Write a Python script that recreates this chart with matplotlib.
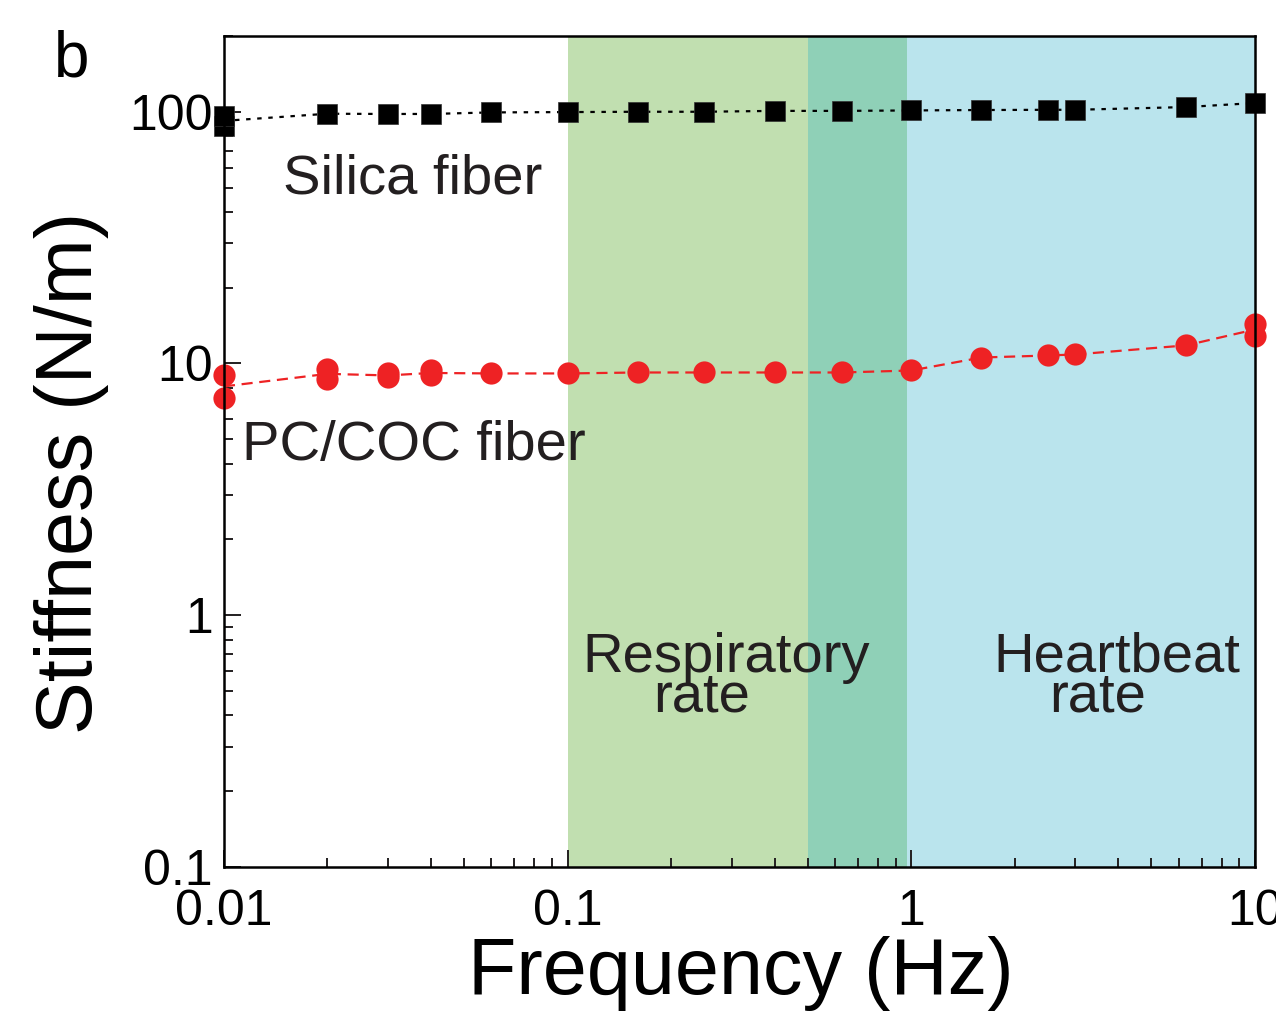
import numpy as np
import matplotlib
matplotlib.use('Agg')
import matplotlib.pyplot as plt

plt.rcParams['font.family'] = ['Liberation Sans', 'DejaVu Sans']

# frequencies (Hz) and stiffness (N/m)
freq_silica = [0.01, 0.01, 0.02, 0.03, 0.04, 0.06, 0.1, 0.16, 0.25, 0.4, 0.63, 1.0, 1.6, 2.5, 3.0, 6.3, 10.0]
k_silica = [88, 96, 98.2, 98, 98, 99.4, 99.7, 100, 100, 100.8, 100.8, 101.2, 101.6, 101.8, 101.8, 104.4, 108.3]

freq_pc = [0.01, 0.01, 0.02, 0.02, 0.03, 0.03, 0.04, 0.04, 0.06, 0.1, 0.16, 0.25, 0.4, 0.63, 1.0, 1.6, 2.5, 3.0, 6.3, 10.0, 10.0]
k_pc = [8.96, 7.26, 9.55, 8.64, 9.13, 8.8, 9.38, 8.96, 9.13, 9.13, 9.21, 9.21, 9.21, 9.21, 9.38, 10.56, 10.76, 10.86, 11.8, 14.4, 12.9]

resp_band = (0.1, 0.97)
heart_band = (0.5, 10.0)

xticks = [0.01, 0.1, 1, 10]
xlabels = ['0.01', '0.1', '1', '10']
yticks = [0.1, 1, 10, 100]
ylabels = ['0.1', '1', '10', '100']


def mean_line(x, y):
    ux = np.unique(x)
    x = np.array(x)
    y = np.array(y)
    return ux, np.array([y[x == u].mean() for u in ux])


fig = plt.figure(figsize=(12.76, 10.22), dpi=100)
ax = fig.add_axes([0.1755, 0.1517, 0.808, 0.8131])
ax.set_xscale('log')
ax.set_yscale('log')

# shaded frequency bands
ax.axvspan(resp_band[0], heart_band[0], color='#c1dfb0', lw=0, zorder=0)
ax.axvspan(heart_band[0], resp_band[1], color='#8fd0b7', lw=0, zorder=0)
ax.axvspan(resp_band[1], heart_band[1], color='#bae4ed', lw=0, zorder=0)

lx, ly = mean_line(freq_silica, k_silica)
ax.plot(lx, ly, ls=(0, (2, 3)), color='black', lw=1.6, zorder=2)
ax.plot(freq_silica, k_silica, 's', ms=14, color='black', mec='#333333', mew=0.5, zorder=3, clip_on=False)

lx, ly = mean_line(freq_pc, k_pc)
ax.plot(lx, ly, ls=(0, (5, 3)), color='#ee2224', lw=1.6, zorder=2)
ax.plot(freq_pc, k_pc, 'o', ms=16, color='#ee2224', mew=0, zorder=3, clip_on=False)

ax.set_xlim(0.01, 10)
ax.set_ylim(0.1, 200)
ax.set_xticks(xticks, xlabels)
ax.set_yticks(yticks, ylabels)
ax.tick_params(which='both', direction='in', top=False, right=False, width=1.4, color='#231f20')
ax.tick_params(which='major', length=12)
ax.tick_params(which='minor', length=6.5)
ax.tick_params(axis='y', labelsize=36, pad=8)
ax.tick_params(axis='x', labelsize=36, pad=16)
for sp in ax.spines.values():
    sp.set_linewidth(1.8)
    sp.set_zorder(4)

txt = dict(fontsize=40.5, color='#231f20', transform=ax.transAxes, va='baseline', ha='left')
ax.text(0.0572, 0.811, 'Silica fiber', **txt)
ax.text(0.0175, 0.490, 'PC/COC fiber', **txt)
ax.text(0.348, 0.2347, 'Respiratory', **txt)
ax.text(0.416, 0.1865, 'rate', **txt)
ax.text(0.746, 0.2347, 'Heartbeat', **txt)
ax.text(0.800, 0.1865, 'rate', **txt)

fig.text(0.0564, 0.537, 'Stiffness (N/m)', fontsize=57, rotation=90, ha='center', va='center')
fig.text(0.5807, 0.027, 'Frequency (Hz)', fontsize=57, ha='center', va='baseline')
fig.text(0.042, 0.925, 'b', fontsize=46, ha='left', va='baseline')

fig.savefig('out.png', dpi=100)
